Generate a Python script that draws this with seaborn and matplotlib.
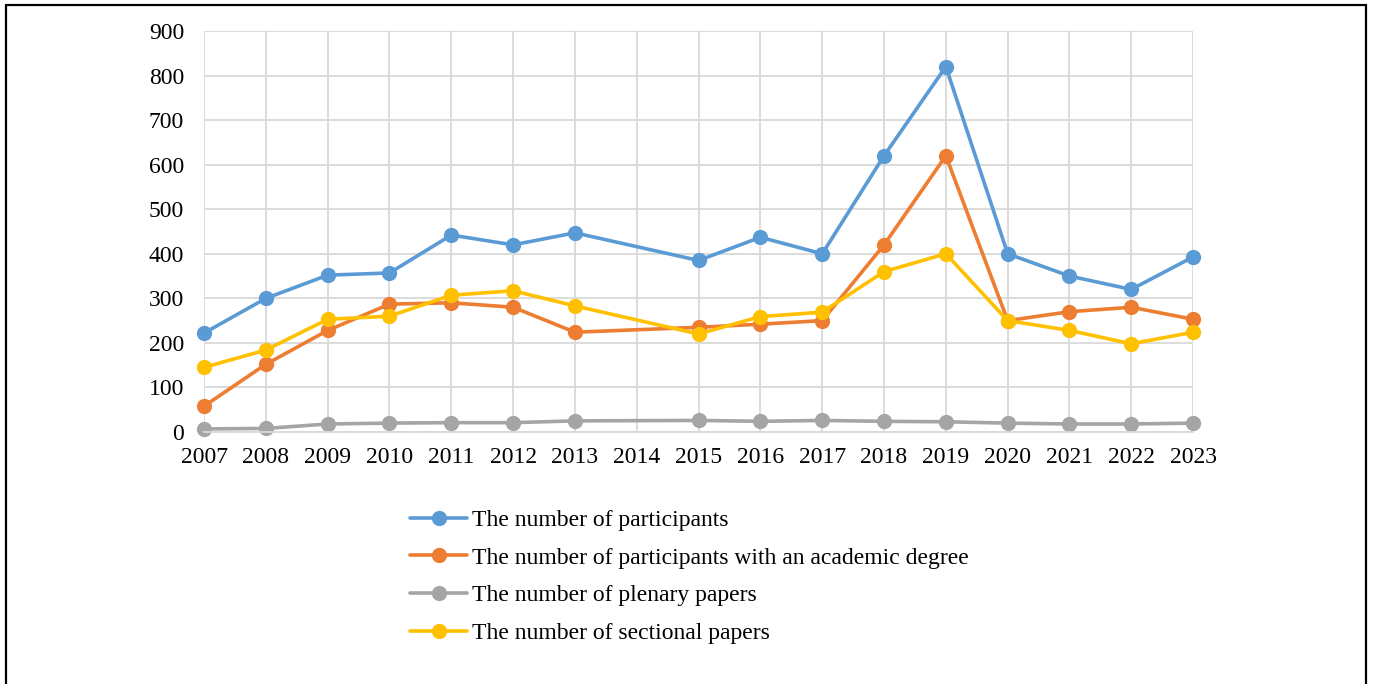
import numpy as np
import pandas as pd
import matplotlib
matplotlib.use("Agg")
import matplotlib.pyplot as plt
from matplotlib.lines import Line2D
import seaborn as sns

# -------------------------------
# DATA
# -------------------------------
years = [2007, 2008, 2009, 2010, 2011, 2012, 2013, 2015, 2016, 2017, 2018, 2019, 2020, 2021, 2022, 2023]
participants = [222, 300, 352, 357, 442, 420, 447, 385, 437, 400, 620, 820, 400, 350, 320, 393]
with_degree = [58, 152, 228, 287, 290, 280, 224, 235, 242, 250, 420, 620, 250, 270, 280, 253]
plenary = [7, 8, 18, 20, 21, 21, 25, 26, 24, 26, 24, 23, 20, 18, 18, 20]
sectional = [145, 184, 253, 260, 307, 317, 283, 220, 259, 269, 360, 400, 250, 228, 198, 224]

series_names = [
    "The number of participants",
    "The number of participants with an academic degree",
    "The number of plenary papers",
    "The number of sectional papers",
]
colors = ["#5B9BD5", "#ED7D31", "#A5A5A5", "#FFC000"]
tick_years = list(range(2007, 2024))

df = pd.DataFrame({
    "Year": years * 4,
    "Value": participants + with_degree + plenary + sectional,
    "Series": np.repeat(series_names, len(years)),
})

# -------------------------------
# PLOT
# -------------------------------
sns.set_style("white")
plt.rcParams["font.family"] = ["Liberation Serif", "DejaVu Serif"]
plt.rcParams["text.color"] = "black"
plt.rcParams["xtick.color"] = "black"
plt.rcParams["ytick.color"] = "black"

fig = plt.figure(figsize=(13.73, 6.84), dpi=100)
ax = fig.add_axes([0.1486, 0.3684, 0.7204, 0.5863])

lw = 2.6
sns.lineplot(data=df, x="Year", y="Value", hue="Series", palette=colors,
             marker="o", markersize=11, markeredgewidth=0, linewidth=lw,
             legend=False, ax=ax)
for ln in ax.lines:
    ln.set_clip_on(False)

ax.set_xlim(2007, 2023)
ax.set_ylim(0, 900)
ax.set_xticks(tick_years)
ax.set_yticks(range(0, 901, 100))
ax.grid(True, color="#D9D9D9", linewidth=1.3)
ax.set_axisbelow(True)
for side in ["top", "right", "left"]:
    ax.spines[side].set_visible(False)
ax.spines["bottom"].set_color("#D9D9D9")
ax.spines["bottom"].set_linewidth(1.3)
ax.tick_params(axis="both", length=0, labelsize=17)
ax.tick_params(axis="y", pad=14.4)
ax.tick_params(axis="x", pad=11)
ax.set_xlabel("")
ax.set_ylabel("")

handles = [Line2D([], [], color=c, marker="o", markersize=11, markeredgewidth=0, linewidth=lw)
           for c in colors]
fig.legend(handles, series_names, loc="upper left", bbox_to_anchor=(0.292, 0.269),
           frameon=False, fontsize=17, handlelength=2.4, labelspacing=0.685,
           handletextpad=0.2, borderaxespad=0)

# outer frame
fw = 1.6
fig.add_artist(Line2D([0.0044, 0.0044], [-0.01, 0.9927], color="black", linewidth=fw, transform=fig.transFigure))
fig.add_artist(Line2D([0.995, 0.995], [-0.01, 0.9927], color="black", linewidth=fw, transform=fig.transFigure))
fig.add_artist(Line2D([0.0044, 0.995], [0.9927, 0.9927], color="black", linewidth=fw, transform=fig.transFigure))

fig.savefig("out.png", dpi=100)
